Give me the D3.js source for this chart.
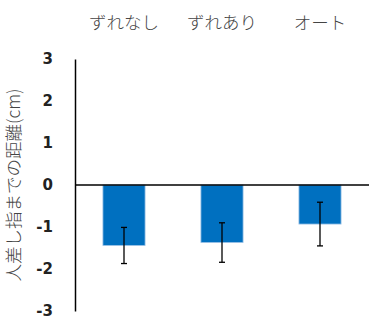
<!DOCTYPE html>
<html lang="ja">
<head>
<meta charset="UTF-8">
<script src="https://d3js.org/d3.v7.min.js"></script>
<style>
  body { margin: 0; background: #fff; }
  svg { display: block; }
  .cat { font-family: "Noto Sans CJK JP", sans-serif; font-size: 17.5px; font-weight: 300; fill: #444; }
  .tick text { font-family: "DejaVu Sans", sans-serif; font-size: 15px; font-weight: bold; fill: #222; }
  .ytitle { font-family: "Noto Sans CJK JP", sans-serif; font-size: 17.5px; font-weight: 300; fill: #444; }
</style>
</head>
<body>
<svg id="chart" width="376" height="320"></svg>
<script>
  // data
  let categories = ["ずれなし", "ずれあり", "オート"]
  let means = [-1.44, -1.37, -0.93]
  let errors = [0.43, 0.47, 0.52]
  let yTicks = [3, 2, 1, 0, -1, -2, -3]

  let svg = d3.select("#chart")
  let margin = {left: 75, right: 7, top: 59, bottom: 10}
  let width = 376, height = 320

  let x = d3.scaleBand().domain(categories).range([margin.left, width - margin.right]).paddingInner(0.57).paddingOuter(0.285)
  let y = d3.scaleLinear().domain([-3, 3]).range([311, 59])

  // y axis, hyphen minus like the original
  let yAxis = d3.axisLeft(y).tickValues(yTicks).tickSize(0).tickPadding(22).tickFormat(d => String(d))
  let gy = svg.append("g").attr("transform", `translate(${margin.left},0)`).call(yAxis)
  gy.select(".domain").attr("stroke", "#000").attr("stroke-width", 1.5)

  // bars
  svg.append("g").selectAll("rect")
    .data(categories)
    .enter().append("rect")
    .attr("x", d => x(d))
    .attr("width", x.bandwidth())
    .attr("y", y(0))
    .attr("height", (d, i) => y(means[i]) - y(0))
    .attr("fill", "#0070C0")
    .attr("stroke", "#9dc3e6")
    .attr("stroke-width", 0.8)

  // zero line
  svg.append("line")
    .attr("x1", margin.left).attr("x2", width - margin.right)
    .attr("y1", y(0)).attr("y2", y(0))
    .attr("stroke", "#000").attr("stroke-width", 1.5)

  // error bars
  let eb = svg.append("g").selectAll("g").data(categories).enter().append("g")
  eb.append("line")
    .attr("x1", d => x(d) + x.bandwidth() / 2).attr("x2", d => x(d) + x.bandwidth() / 2)
    .attr("y1", (d, i) => y(means[i] + errors[i])).attr("y2", (d, i) => y(means[i] - errors[i]))
    .attr("stroke", "#000").attr("stroke-width", 1.3)
  eb.append("line")
    .attr("x1", d => x(d) + x.bandwidth() / 2 - 3).attr("x2", d => x(d) + x.bandwidth() / 2 + 3)
    .attr("y1", (d, i) => y(means[i] + errors[i])).attr("y2", (d, i) => y(means[i] + errors[i]))
    .attr("stroke", "#000").attr("stroke-width", 1.3)
  eb.append("line")
    .attr("x1", d => x(d) + x.bandwidth() / 2 - 3).attr("x2", d => x(d) + x.bandwidth() / 2 + 3)
    .attr("y1", (d, i) => y(means[i] - errors[i])).attr("y2", (d, i) => y(means[i] - errors[i]))
    .attr("stroke", "#000").attr("stroke-width", 1.3)

  // category labels at top
  svg.append("g").selectAll("text")
    .data(categories)
    .enter().append("text")
    .attr("class", "cat")
    .attr("x", d => x(d) + x.bandwidth() / 2)
    .attr("y", 29)
    .attr("text-anchor", "middle")
    .text(d => d)

  // y axis title
  svg.append("text")
    .attr("class", "ytitle")
    .attr("transform", `translate(20,${y(0)}) rotate(-90)`)
    .attr("text-anchor", "middle")
    .text("人差し指までの距離(cm)")
</script>
</body>
</html>
